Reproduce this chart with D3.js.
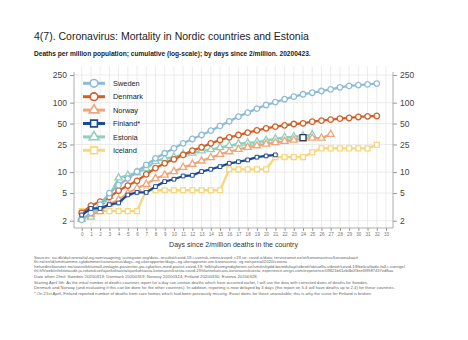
<!DOCTYPE html>
<html><head><meta charset="utf-8">
<script src="https://cdn.jsdelivr.net/npm/d3@7"></script>
<style>
html,body{margin:0;padding:0;background:#fff;}
svg text{font-family:"Liberation Sans",Arial,Helvetica,sans-serif;}
</style></head>
<body>
<svg id="c" width="468" height="340"></svg>
<script>
const days = [0,1,2,3,4,5,6,7,8,9,10,11,12,13,14,15,16,17,18,19,20,21,22,23,24,25,26,27,28,29,30,31,32,33];
const yTicks = [2,5,10,25,50,100,250];
const countries = ["Sweden","Denmark","Norway","Finland*","Estonia","Iceland"];
const sweden = [2.05,2.6,3.4,5.0,6.5,8.1,10.2,12.7,15.8,18.7,22.0,26.0,30.0,34.2,39.5,46.2,53.9,62.9,71.8,81.9,92.5,102,112,122,132,139,147,155,166,174,179,183,188];
const denmark = [2.6,3.3,3.76,4.4,5.4,6.4,7.5,9.3,11.4,13.4,15.3,17.7,20.4,22.8,26.0,29.0,31.7,34.2,37.0,40.0,42.7,45.1,47.2,49.3,50.4,53.3,55.1,56.9,58.8,60.2,62.2,63.6,64.3];
const norway = [2.1,2.5,2.7,3.5,4.0,4.96,5.85,6.7,8.1,9.1,10.2,11.7,13.0,14.5,16.2,18.1,19.7,21.3,22.8,24.0,25.4,26.6,27.8,29.0,30.0,30.9,30.9,35.0];
const finland = [2.42,3.0,3.0,3.4,3.6,4.7,5.1,5.1,6.2,7.3,7.9,8.8,9.0,10.2,11.0,12.0,13.4,14.1,15.0,16.4,17.1,17.7,null,null,31.3];
const estonia = [2.26,2.26,3.0,4.5,8.3,9.0,9.8,11.3,14.3,15.8,16.5,18.1,18.8,20.3,21.1,22.6,24.1,25.6,26.3,27.1,28.6,30.1,31.6,32.4,33.1,34.6];
const iceland = [2.75,2.75,2.75,2.75,2.75,2.75,2.75,5.49,5.49,5.49,5.49,5.49,5.49,5.49,5.49,5.49,10.99,10.99,10.99,10.99,10.99,16.48,16.48,16.48,16.48,19.23,21.98,21.98,21.98,21.98,21.98,21.98,24.7];

const colors = {Sweden:"#8dbbd8",Denmark:"#d35f27",Norway:"#f0a578","Finland*":"#1f4b94",Estonia:"#8fcfbd",Iceland:"#f7d67e"};
const shapes = {Sweden:d3.symbolCircle,Denmark:d3.symbolCircle,Norway:d3.symbolTriangle,"Finland*":d3.symbolSquare,Estonia:d3.symbolTriangle,Iceland:d3.symbolSquare};
const values = {Sweden:sweden,Denmark:denmark,Norway:norway,"Finland*":finland,Estonia:estonia,Iceland:iceland};

const svg = d3.select("#c");
const L = 74, R = 393, T = 66, B = 228;
const x = d3.scaleLinear().domain([0,33]).range([81.7,386]);
const y = d3.scaleLog().domain([2,250]).range([220.7,75]);

// grid
const g = svg.append("g");
g.selectAll(".vg").data(days).enter().append("line")
 .attr("x1",d=>x(d)).attr("x2",d=>x(d)).attr("y1",T).attr("y2",B)
 .attr("stroke","#e7e7e7").attr("stroke-width",0.8);
g.selectAll(".hg").data(yTicks).enter().append("line")
 .attr("x1",L).attr("x2",R).attr("y1",d=>y(d)).attr("y2",d=>y(d))
 .attr("stroke","#e7e7e7").attr("stroke-width",0.8);

// axes
const axL = svg.append("g").attr("transform",`translate(${L},0)`)
 .call(d3.axisLeft(y).tickValues(yTicks).tickFormat(d3.format("d")).tickSize(4).tickSizeOuter(0));
const axR = svg.append("g").attr("transform",`translate(${R},0)`)
 .call(d3.axisRight(y).tickValues(yTicks).tickFormat(d3.format("d")).tickSize(4).tickSizeOuter(0));
[axL,axR].forEach(a=>{
  a.select(".domain").remove();
  a.selectAll("line").attr("stroke","#999");
  a.selectAll("text").attr("font-size",8.5).attr("fill","#444").attr("font-family","Liberation Sans, Arial, sans-serif");
});
svg.append("line").attr("x1",L).attr("x2",L).attr("y1",72).attr("y2",B).attr("stroke","#999").attr("stroke-width",0.8);
svg.append("line").attr("x1",R).attr("x2",R).attr("y1",72).attr("y2",B).attr("stroke","#999").attr("stroke-width",0.8);

const axB = svg.append("g").attr("transform",`translate(0,${B})`)
 .call(d3.axisBottom(x).tickValues(days).tickFormat(d3.format("d")).tickSize(3).tickPadding(2).tickSizeOuter(0));
axB.select(".domain").remove();
axB.selectAll("line").attr("stroke","#999");
axB.selectAll("text").attr("font-size",4.6).attr("fill","#777").attr("font-family","Liberation Sans, Arial, sans-serif");
svg.append("line").attr("x1",L).attr("x2",R).attr("y1",B).attr("y2",B).attr("stroke","#999").attr("stroke-width",0.8);

// series
const line = d3.line().defined(d=>d!=null).x((d,i)=>x(days[i])).y(d=>y(d));
const drawOrder = ["Iceland","Estonia","Norway","Denmark","Sweden","Finland*"];
drawOrder.forEach(c=>{
  const vals = values[c];
  svg.append("path").attr("d",line(vals)).attr("fill","none")
    .attr("stroke",colors[c]).attr("stroke-width",2.3).attr("stroke-linejoin","round");
  const sz = c==="Finland*" ? 14 : (shapes[c]===d3.symbolTriangle ? 22 : 24);
  const pts = vals.map((v,i)=>({v:v,i:i})).filter(p=>p.v!=null);
  svg.append("g").selectAll("path").data(pts).enter()
    .append("path")
    .attr("d",p=>d3.symbol().type(shapes[c]).size(c==="Finland*" && p.i===24 ? 36 : sz)())
    .attr("transform",p=>`translate(${x(days[p.i])},${y(p.v)})`)
    .attr("fill","#fff")
    .attr("stroke",p=>(c==="Finland*" && p.i===24) ? "#223a5e" : colors[c])
    .attr("stroke-width",p=>(c==="Finland*" && p.i!==24) ? 1 : 1.3);
});

// legend
const lg = svg.append("g");
countries.forEach((c,i)=>{
  const yy = 83.3 + i*13.4;
  lg.append("line").attr("x1",83).attr("x2",105).attr("y1",yy).attr("y2",yy)
    .attr("stroke",colors[c]).attr("stroke-width",3);
  lg.append("path").attr("d",d3.symbol().type(shapes[c]).size(shapes[c]===d3.symbolTriangle?40:46)())
    .attr("transform",`translate(94,${yy})`).attr("fill","#fff").attr("stroke",colors[c]).attr("stroke-width",1.6);
  lg.append("text").attr("x",113).attr("y",yy+2.6).attr("font-size",7.4).attr("fill","#222").text(c);
});

// titles
svg.append("text").attr("x",34).attr("y",40).attr("font-size",10.5).attr("fill","#222")
 .text("4(7). Coronavirus: Mortality in Nordic countries and Estonia");
svg.append("text").attr("x",34).attr("y",55.5).attr("font-size",6.6).attr("font-weight","bold").attr("fill","#222")
 .text("Deaths per million population; cumulative (log-scale); by days since 2/million. 20200423.");
svg.append("text").attr("x",(L+R)/2).attr("y",246.5).attr("text-anchor","middle").attr("font-size",7).attr("fill","#333")
 .text("Days since 2/million deaths in the country");

// notes
const notes = [
 ["Sources: ssi.dk/da/corona/tal-og-overvaagning; icuregswe.org/data--resultat/covid-19-i-svensk-intensivvard; c19.se; covid.is/data; terviseamet.ee/et/koroonaviirus/koroonakaart",259,324],
 ["fhi.no/en/id/smittsomme-sykdommer/coronavirus/dags--og-ukerapporter/dags--og-ukerapporter-om-koronavirus; vg.no/spesial/2020/corona",263.4,253],
 ["helsedirektoratet.no/statistikk/antall-innlagte-pasienter-pa-sykehus-med-pavist-covid-19; folkhalsomyndigheten.se/smittskydd-beredskap/utbrott/aktuella-utbrott/covid-19/bekraftade-fall-i-sverige/",267.7,371],
 ["thl.fi/fi/web/infektiotaudit-ja-rokotukset/ajankohtaista/ajankohtaista-koronaviruksesta-covid-19/tilannekatsaus-koronaviruksesta; experience.arcgis.com/experience/09821b61eb4b0f3ee6f9987437ed8aa",271.9,359],
 ["Date when 2/mil: Sweden 20200319; Denmark 20200319; Norway 20200324; Finland 20200330; Estonia 20200328.",278,224],
 ["Starting April 5th: As the initial number of deaths countries report for a day can contain deaths which have occurred earlier, I will use the data with corrected dates of deaths for Sweden,",284.3,334],
 ["Denmark and Norway (and evaluating if this can be done for the other countries). In addition, reporting is now delayed by 3 days (the report on 5.4 will have deaths up to 2.4) for these countries.",288.6,361],
 ["* On 21st April, Finland reported number of deaths from care homes which had been previously missing. Exact dates for those unavailable; this is why the curve for Finland is broken.",294.8,338]
];
notes.forEach(n=>{
  svg.append("text").attr("x",34).attr("y",n[1]).attr("font-size",4.2).attr("fill","#666")
   .attr("textLength",n[2]).attr("lengthAdjust","spacingAndGlyphs").text(n[0]);
});
</script>
</body></html>
